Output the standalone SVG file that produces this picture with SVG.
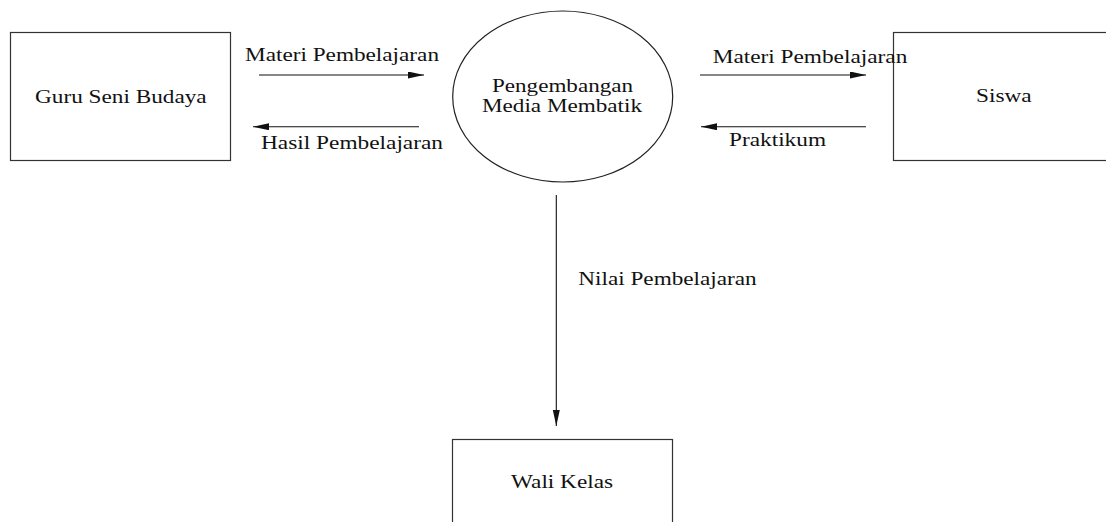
<svg xmlns="http://www.w3.org/2000/svg" width="1106" height="522" viewBox="0 0 1106 522">
<style>
.box{fill:#fff;stroke:#333;stroke-width:1.2}
.proc{fill:#fff;stroke:#222;stroke-width:1.2}
.t{font-family:"Liberation Serif","Times New Roman",serif;font-size:18.5px;fill:#111}
.c{stroke:#111;stroke-width:1.1;fill:none;marker-end:url(#ah)}
</style>
<defs>
<marker id="ah" markerUnits="userSpaceOnUse" markerWidth="16" markerHeight="8" refX="16" refY="3.5" orient="auto">
<path d="M0,0 L16,3.5 L0,7 z" fill="#111"/>
</marker>
</defs>
<rect width="1106" height="522" fill="#fff"/>
<g id="guru">
<rect class="box" x="10.5" y="32.5" width="220" height="128"/>
<text class="t" x="35" y="102.7" textLength="171.7" lengthAdjust="spacingAndGlyphs">Guru Seni Budaya</text>
</g>
<g id="proses">
<ellipse class="proc" cx="562.7" cy="96.5" rx="110" ry="85.5"/>
<text class="t" x="492" y="92" textLength="141" lengthAdjust="spacingAndGlyphs">Pengembangan</text>
<text class="t" x="482" y="111.7" textLength="160" lengthAdjust="spacingAndGlyphs">Media Membatik</text>
</g>
<g id="siswa">
<rect class="box" x="893.5" y="32.5" width="220" height="128"/>
<text class="t" x="976" y="102" textLength="55.7" lengthAdjust="spacingAndGlyphs">Siswa</text>
</g>
<g id="wali">
<rect class="box" x="452.5" y="439.5" width="220" height="128"/>
<text class="t" x="511" y="488" textLength="102" lengthAdjust="spacingAndGlyphs">Wali Kelas</text>
</g>
<g id="connectors">
<line class="c" x1="259" y1="75" x2="424" y2="75"/>
<line class="c" x1="419" y1="126.7" x2="253" y2="126.7"/>
<line class="c" x1="700" y1="75" x2="866" y2="75"/>
<line class="c" x1="866" y1="126.7" x2="701" y2="126.7"/>
<line class="c" x1="556.3" y1="195" x2="556.3" y2="426"/>
<text class="t" x="245" y="60.7" textLength="194" lengthAdjust="spacingAndGlyphs">Materi Pembelajaran</text>
<text class="t" x="261" y="149.3" textLength="182" lengthAdjust="spacingAndGlyphs">Hasil Pembelajaran</text>
<text class="t" x="712.7" y="62.7" textLength="194.6" lengthAdjust="spacingAndGlyphs">Materi Pembelajaran</text>
<text class="t" x="729" y="146" textLength="97" lengthAdjust="spacingAndGlyphs">Praktikum</text>
<text class="t" x="578.3" y="285" textLength="178.4" lengthAdjust="spacingAndGlyphs">Nilai Pembelajaran</text>
</g>
</svg>
